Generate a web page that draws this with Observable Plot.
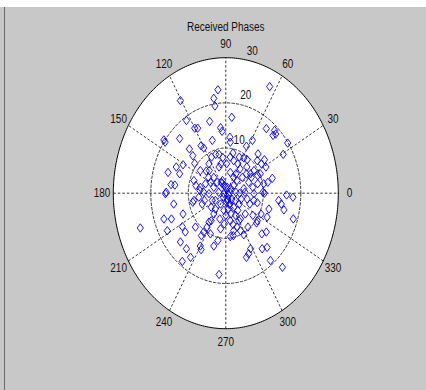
<!DOCTYPE html>
<html><head><meta charset="utf-8">
<script src="https://cdn.jsdelivr.net/npm/d3@7"></script>
<script src="https://cdn.jsdelivr.net/npm/@observablehq/plot@0.6"></script>
<style>
body{margin:0;background:#fff;}
#fig{position:absolute;left:0;top:7px;width:426px;height:383px;background:#c8c8c8;}
#edge{position:absolute;left:4px;top:7px;width:1px;height:383px;background:#6a6a6a;}
#fig svg{display:block;}
</style></head><body><div id="fig"></div><div id="edge"></div>
<script>
const title = "Received Phases";
const realPart = [11.7,-2.1,-3.2,-2.9,-12.1,1.6,-4.3,-10.5,-8.3,-7.5,-1.4,-1.0,10.8,13.0,13.3,12.6,-16.5,-16.2,-12.3,-6.6,-5.9,-3.6,1.1,1.2,7.1,5.5,16.5,15.3,-9.7,-8.8,-8.3,-1.8,-2.7,-0.8,1.9,2.1,3.6,4.8,5.7,8.6,8.4,10.3,10.7,9.5,12.4,-11.4,-13.2,-15.4,-12.3,-13.6,-14.6,-15.9,-16.1,-8.5,-6.8,-5.2,-4.4,-4.6,-1.3,-1.8,-0.9,-1.2,1.2,2.7,3.8,5.6,6.6,6.8,6.1,8.5,8.5,10.1,11.2,-8.0,-6.9,-5.4,-4.1,-3.2,0.4,2.1,3.0,4.8,5.1,7.2,9.9,10.3,7.5,16.2,17.9,14.1,14.8,15.5,18.0,8.4,11.5,11.0,9.4,8.4,8.2,5.9,7.2,-13.9,-16.5,-14.5,-15.6,-22.8,-11.4,-11.6,-10.8,-8.1,-8.5,-8.8,-6.3,-5.7,-3.6,-3.9,-2.8,-3.2,-3.9,-4.5,-5.0,-5.9,-1.4,-0.7,0.4,0.9,1.6,2.1,3.6,3.2,0.0,1.2,1.9,3.0,3.9,2.0,4.8,-1.4,-4.1,-2.1,-3.2,-6.5,-6.8,-6.6,-12.1,-10.5,-9.4,-11.6,9.6,10.8,11.0,9.7,6.6,6.1,5.5,11.9,15.1,-1.8,1.2,-0.5,-0.1,0.8,-1.9,3.9,5.2,6.4,-1.0,-0.4,1.1,0.2,0.6,1.4,2.6,3.5,2.1,-0.5,-2.3,-3.2,-5.9,-4.5,-7.2,-6.8,2.6,4.1,5.7,7.5,3.7,2.7,-2.8,-1.6,-0.4,1.1,0.5,1.3,2.1,4.4,5.5,0.2,1.2,3.2,7.5,9.2,-3.8,-4.5];
const imagPart = [23.6,22.9,21.0,19.3,20.5,16.8,15.9,16.1,14.4,14.4,14.5,13.7,14.3,13.9,13.1,12.8,11.8,11.3,12.1,10.5,10.0,11.7,12.4,11.3,11.7,10.4,11.1,8.6,9.8,8.3,6.6,8.6,8.6,7.9,8.9,7.2,8.0,7.8,7.4,8.7,7.2,7.4,5.8,6.5,3.3,6.3,5.8,4.6,4.3,1.8,1.9,0.2,-0.1,2.8,5.0,4.9,5.0,3.5,6.5,5.8,2.8,2.4,4.6,4.3,5.4,5.8,4.3,3.5,2.4,3.9,2.1,2.1,2.4,1.7,0.6,2.1,2.4,1.3,1.3,1.7,2.8,1.0,0.2,1.3,0.2,0.0,-0.1,-0.4,-0.9,-1.6,-2.4,-3.7,-5.7,-2.1,-3.5,-5.3,-4.6,-6.1,-6.6,-7.5,-4.9,-2.4,-5.7,-5.7,-8.3,-7.7,-4.6,-7.4,-8.6,-7.5,-1.6,-2.0,-2.4,-1.6,-1.6,-3.1,-3.5,-4.6,-6.1,-6.4,-7.5,-8.6,-2.4,-0.9,-1.6,-2.5,-1.3,-3.1,-2.4,-3.8,-4.9,-6.1,-6.9,-7.5,-8.3,-9.4,-9.2,-7.9,-9.0,-10.5,-11.7,-9.4,-11.7,-12.5,-10.8,-12.3,-14.2,-15.1,-9.0,-8.6,-12.0,-12.3,-12.3,-13.4,-14.2,-14.9,-16.4,-18.0,-9.6,-0.1,1.3,-0.5,0.2,-5.7,-4.6,-2.4,2.2,1.7,0.2,-2.0,-3.5,-4.6,-4.9,-6.1,-8.3,-3.8,2.4,3.5,0.2,-0.1,-0.9,1.3,-1.6,-1.3,-1.3,-1.6,0.0,0.2,-1.6,-5.7,-6.8,-2.4,-1.3,1.0,3.5,3.5,4.3,6.5,8.0,6.5,5.0,4.3,8.0,6.5];
const ringValues = [10, 20, 30];
const angleTicks = [0, 30, 60, 90, 120, 150, 180, 210, 240, 270, 300, 330];
const rMax = 30;

const rad = a => a * Math.PI / 180;
const pts = realPart.map((x, i) => ({x, y: imagPart[i]}));
const circle = r => d3.range(0, 361, 1).map(a => ({x: r * Math.cos(rad(a)), y: r * Math.sin(rad(a))}));
const spokes = angleTicks.slice(0, 6).map(a => ({x1: -rMax * Math.cos(rad(a)), y1: -rMax * Math.sin(rad(a)), x2: rMax * Math.cos(rad(a)), y2: rMax * Math.sin(rad(a))}));
const angleLabels = angleTicks.map(a => ({x: 1.1 * rMax * Math.cos(rad(a)), y: 1.1 * rMax * Math.sin(rad(a)), t: String(a)}));
const ringLabels = ringValues.map(v => ({x: (v + 2) * Math.cos(rad(80)), y: (v + 2) * Math.sin(rad(80)), t: String(v)}));

const diamond = {draw(ctx, size) {
  const r = Math.sqrt(size / Math.PI);
  ctx.moveTo(0, -r); ctx.lineTo(0.75 * r, 0); ctx.lineTo(0, r); ctx.lineTo(-0.75 * r, 0); ctx.closePath();
}};

const gridStyle = {stroke: "#000", strokeWidth: 0.8, strokeDasharray: "2.5,2"};

const chart = Plot.plot({
  width: 426, height: 383,
  marginLeft: 112.8, marginRight: 88.2, marginTop: 50.2, marginBottom: 61.8,
  x: {domain: [-rMax, rMax], axis: null},
  y: {domain: [-rMax, rMax], axis: null},
  style: {background: "transparent", fontFamily: "'Liberation Sans', Arial, sans-serif", fontSize: "12px", color: "#111", overflow: "visible"},
  marks: [
    Plot.line(circle(rMax), {x: "x", y: "y", fill: "white", stroke: "none"}),
    ...ringValues.slice(0, -1).map(v => Plot.line(circle(v), {x: "x", y: "y", ...gridStyle})),
    Plot.link(spokes, {x1: "x1", y1: "y1", x2: "x2", y2: "y2", ...gridStyle}),
    Plot.line(circle(rMax), {x: "x", y: "y", stroke: "#000", strokeWidth: 1}),
    Plot.dot(pts, {x: "x", y: "y", symbol: diamond, r: 4.2, stroke: "#0000ff", strokeWidth: 0.9, fill: "none"}),
    Plot.text(angleLabels, {x: "x", y: "y", text: "t", fill: "#111", fontSize: 12}),
    Plot.text(ringLabels, {x: "x", y: "y", text: "t", fill: "#111", fontSize: 12, textAnchor: "start"}),
    Plot.text([title], {frameAnchor: "top", dy: -35, text: d => d, fill: "#111", fontSize: 12})
  ]
});
document.getElementById("fig").appendChild(chart);
// MATLAB's default UI font is narrower than Liberation Sans: condense the glyphs horizontally
chart.querySelectorAll("text").forEach(el => {
  const len = el.getComputedTextLength();
  if (len > 0) {
    el.setAttribute("textLength", (len * 0.83).toFixed(1));
    el.setAttribute("lengthAdjust", "spacingAndGlyphs");
  }
});
</script>
</body></html>
